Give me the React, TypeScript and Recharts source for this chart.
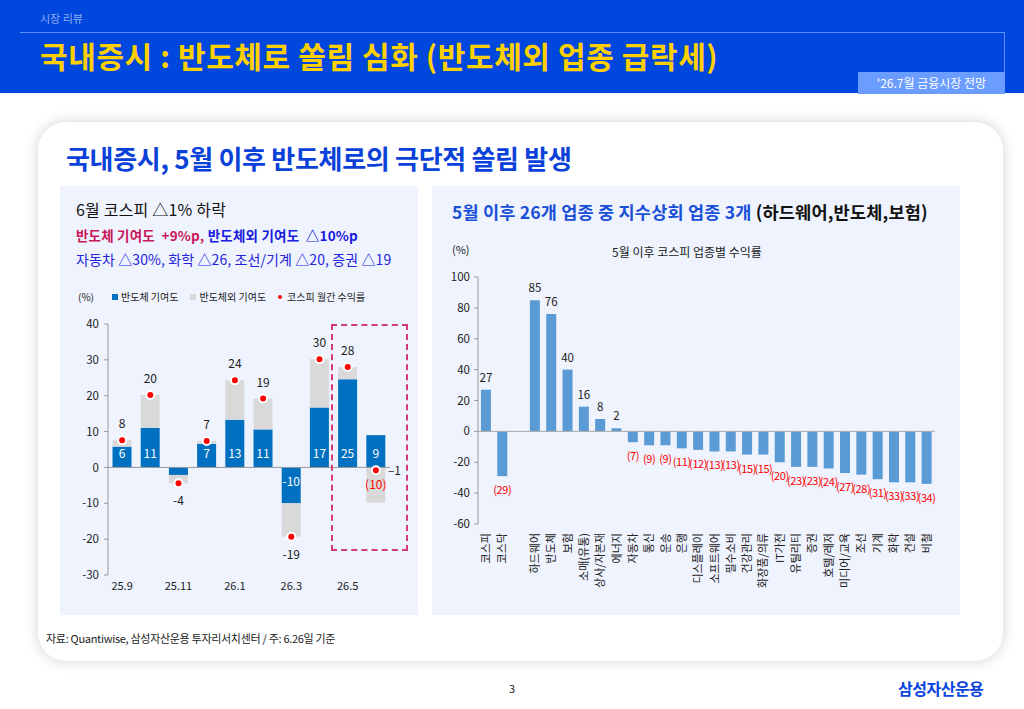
import React from 'react';
import { ComposedChart, BarChart, Bar, Line, XAxis, YAxis, ReferenceLine, LabelList } from 'recharts';

// left chart: monthly KOSPI contribution
const months = ['25.9', '25.10', '25.11', '25.12', '26.1', '26.2', '26.3', '26.4', '26.5', '26.6'];
const semiContrib = [5.8, 11.0, -2.1, 6.6, 13.3, 10.6, -10.0, 16.7, 24.6, 9.0];
const nonSemiContrib = [1.8, 9.2, -2.3, 0.8, 11.0, 8.6, -9.3, 13.5, 3.4, -9.8];
const kospiReturn = [7.6, 20.2, -4.4, 7.4, 24.3, 19.2, -19.3, 30.2, 28.0, -0.8];
const leftTicks = [-30, -20, -10, 0, 10, 20, 30, 40];

// right chart: sector returns since May
const sectors = ['코스피', '코스닥', '', '하드웨어', '반도체', '보험', '소매(유통)', '상사/자본재', '에너지', '자동차', '통신', '운송', '은행', '디스플레이', '소프트웨어', '필수소비', '건강관리', '화장품/의류', 'IT가전', '유틸리티', '증권', '호텔/레저', '미디어/교육', '조선', '기계', '화학', '건설', '비철'];
const sectorReturn = [27, -29, null, 85, 76, 40, 16, 8, 2, -7, -9, -9, -11, -12, -13, -13, -15, -15, -20, -23, -23, -24, -27, -28, -31, -33, -33, -34];
const rightTicks = [-60, -40, -20, 0, 20, 40, 60, 80, 100];

const FONT = '"Noto Sans CJK KR", "Noto Sans", sans-serif';

const leftData = months.map((m, i) => ({
  month: m,
  semi: semiContrib[i],
  nonSemi: nonSemiContrib[i],
  total: kospiReturn[i],
}));

const rightData = sectors.map((s, i) => ({ name: s, value: sectorReturn[i] }));

const RedDot = (props: any) => {
  const { cx, cy } = props;
  if (cx == null || cy == null) return null;
  return <circle cx={cx} cy={cy} r={4} fill="#ff0000" stroke="#ffffff" strokeWidth={2} />;
};

const TotalLabel = (props: any) => {
  const { x, y, value, index } = props;
  if (value == null) return null;
  if (index === months.length - 1) {
    return (
      <text x={x + 12} y={y + 5} fontSize={12} fill="#222" textAnchor="start" fontFamily={FONT}>
        {'–' + Math.abs(Math.round(value))}
      </text>
    );
  }
  return (
    <text x={x} y={value >= 0 ? y - 12 : y + 22} fontSize={12} fill="#222" textAnchor="middle" fontFamily={FONT}>
      {Math.round(value)}
    </text>
  );
};

const SemiLabel = (props: any) => {
  const { x, y, width, height, value } = props;
  if (value == null || Math.abs(value) < 3) return null;
  const top = Math.min(y, y + height);
  const bottom = Math.max(y, y + height);
  const ty = value >= 0 ? bottom - 9 : top + 19;
  return (
    <text x={x + width / 2} y={ty} fontSize={12} fill="#ffffff" textAnchor="middle" fontFamily={FONT}>
      {Math.round(value)}
    </text>
  );
};

const NonSemiLabel = (props: any) => {
  const { x, width, y, height, value, index } = props;
  if (index !== months.length - 1 || value == null) return null;
  const top = Math.min(y, y + height);
  return (
    <text x={x + width / 2} y={top + 22} fontSize={12} fill="#ff0000" textAnchor="middle" fontFamily={FONT}>
      {'(' + Math.abs(Math.round(value)) + ')'}
    </text>
  );
};

const SectorLabel = (props: any) => {
  const { x, y, width, height, value } = props;
  if (value == null) return null;
  const top = Math.min(y, y + height);
  const bottom = Math.max(y, y + height);
  if (value >= 0) {
    return (
      <text x={x + width / 2} y={top - 8} fontSize={11.5} fill="#222" textAnchor="middle" fontFamily={FONT}>
        {value}
      </text>
    );
  }
  return (
    <text x={x + width / 2} y={bottom + 18} fontSize={11} fill="#ff0000" textAnchor="middle" fontFamily={FONT} letterSpacing={-0.4}>
      {'(' + Math.abs(value) + ')'}
    </text>
  );
};

const SectorTick = (props: any) => {
  const { x, y, payload } = props;
  if (!payload || !payload.value) return null;
  return (
    <text
      x={x}
      y={y + 3}
      transform={`rotate(-90, ${x}, ${y + 3})`}
      textAnchor="end"
      dy="0.35em"
      fontSize={11}
      fill="#222"
      fontFamily={FONT}
    >
      {payload.value}
    </text>
  );
};

const abs = (left: number, top: number, extra: React.CSSProperties = {}): React.CSSProperties => ({
  position: 'absolute',
  left,
  top,
  ...extra,
});

export default function App() {
  return (
    <div style={{ position: 'absolute', left: 0, top: 0, width: 1024, height: 709, background: '#ffffff', overflow: 'hidden', fontFamily: FONT }}>
      {/* header band */}
      <div style={abs(0, 0, { width: 1024, height: 93, background: '#0047de' })} />
      <div style={abs(40, 10, { fontSize: 11, color: '#8fb0ef' })}>시장 리뷰</div>
      <div style={abs(20, 32, { width: 984, height: 40, borderTop: '1px solid #5d8dff', borderRight: '1px solid #5d8dff' })} />
      <div style={abs(40, 33, { fontSize: 30, fontWeight: 700, color: '#ffd000', letterSpacing: 0.6, whiteSpace: 'nowrap' })}>
        국내증시 : 반도체로 쏠림 심화 (반도체외 업종 급락세)
      </div>
      <div style={abs(858, 72, { width: 147, height: 22, background: '#6b9cff', color: '#fff', fontSize: 12, lineHeight: '22px', textAlign: 'center' })}>
        '26.7월 금융시장 전망
      </div>

      {/* card */}
      <div style={abs(38, 122, { width: 965, height: 539, background: '#fff', borderRadius: 28, boxShadow: '0 0 14px rgba(0,0,0,0.18)' })} />
      <div style={abs(66, 139, { fontSize: 26, fontWeight: 700, color: '#0a41d8', letterSpacing: -0.3, whiteSpace: 'nowrap' })}>
        국내증시, 5월 이후 반도체로의 극단적 쏠림 발생
      </div>

      {/* left panel */}
      <div style={abs(60, 186, { width: 358, height: 429, background: '#eef3fd' })} />
      <div style={abs(76, 197, { fontSize: 16, color: '#111', whiteSpace: 'nowrap', letterSpacing: 0.2 })}>6월 코스피 △1% 하락</div>
      <div style={abs(76, 225, { fontSize: 13.5, fontWeight: 700, whiteSpace: 'nowrap', letterSpacing: 0.2 })}>
        <span style={{ color: '#c8185a' }}>반도체 기여도 &nbsp;+9%p, </span>
        <span style={{ color: '#1a1ae0' }}>반도체외 기여도 &nbsp;△10%p</span>
      </div>
      <div style={abs(76, 249, { fontSize: 14, color: '#2424dc', whiteSpace: 'nowrap', letterSpacing: 0.1 })}>
        자동차 △30%, 화학 △26, 조선/기계 △20, 증권 △19
      </div>
      <div style={abs(78, 289, { fontSize: 10, color: '#222' })}>(%)</div>
      <div style={abs(112, 289, { fontSize: 10, color: '#222', display: 'flex', alignItems: 'center', whiteSpace: 'nowrap' })}>
        <span style={{ display: 'inline-block', width: 6, height: 6, background: '#0070c0', marginRight: 3 }} />
        <span style={{ marginRight: 12 }}>반도체 기여도</span>
        <span style={{ display: 'inline-block', width: 6, height: 6, background: '#d9d9d9', marginRight: 3 }} />
        <span style={{ marginRight: 12 }}>반도체외 기여도</span>
        <span style={{ display: 'inline-block', width: 4, height: 4, borderRadius: 2, background: '#ff0000', marginRight: 5 }} />
        <span>코스피 월간 수익률</span>
      </div>
      <div style={abs(60, 310)}>
        <ComposedChart
          width={350}
          height={290}
          data={leftData}
          stackOffset="sign"
          barCategoryGap="16%"
          margin={{ top: 14, right: 20, bottom: 5, left: 10 }}
        >
          <XAxis
            dataKey="month"
            interval={1}
            axisLine={false}
            tickLine={false}
            tickSize={4}
            tickMargin={3}
            height={20}
            tick={{ fontSize: 11, fill: '#222', fontFamily: FONT }}
          />
          <YAxis
            domain={[-30, 40]}
            ticks={leftTicks}
            width={38}
            tickSize={4}
            tickMargin={5}
            axisLine={{ stroke: '#999' }}
            tickLine={{ stroke: '#999' }}
            tick={{ fontSize: 11.5, fill: '#222', fontFamily: FONT }}
          />
          <Bar dataKey="semi" stackId="a" fill="#0070c0" isAnimationActive={false}>
            <LabelList dataKey="semi" content={<SemiLabel />} />
          </Bar>
          <Bar dataKey="nonSemi" stackId="a" fill="#d9d9d9" isAnimationActive={false}>
            <LabelList dataKey="nonSemi" content={<NonSemiLabel />} />
          </Bar>
          <ReferenceLine y={0} stroke="#999" />
          <Line dataKey="total" stroke="none" dot={<RedDot />} activeDot={false} isAnimationActive={false}>
            <LabelList dataKey="total" content={<TotalLabel />} />
          </Line>
        </ComposedChart>
      </div>
      <div style={abs(331, 324, { width: 73, height: 223, border: '2px dashed #d23a78' })} />

      {/* right panel */}
      <div style={abs(432, 186, { width: 528, height: 429, background: '#eef3fd' })} />
      <div style={abs(452, 199, { fontSize: 17.5, fontWeight: 700, whiteSpace: 'nowrap', letterSpacing: 0.2 })}>
        <span style={{ color: '#1a4fd8' }}>5월 이후 26개 업종 중 지수상회 업종 3개 </span>
        <span style={{ color: '#111' }}>(하드웨어,반도체,보험)</span>
      </div>
      <div style={abs(452, 241, { fontSize: 11, color: '#222' })}>(%)</div>
      <div style={abs(612, 243, { fontSize: 12, color: '#222', whiteSpace: 'nowrap' })}>5월 이후 코스피 업종별 수익률</div>
      <div style={abs(432, 265)}>
        <BarChart
          width={520}
          height={330}
          data={rightData}
          barCategoryGap="18%"
          margin={{ top: 12, right: 17, bottom: 0, left: 10 }}
        >
          <XAxis
            dataKey="name"
            interval={0}
            axisLine={false}
            tickLine={false}
            tickSize={4}
            tickMargin={2}
            height={71}
            tick={<SectorTick />}
          />
          <YAxis
            domain={[-60, 100]}
            ticks={rightTicks}
            width={36}
            tickSize={4}
            tickMargin={4}
            axisLine={{ stroke: '#999' }}
            tickLine={{ stroke: '#999' }}
            tick={{ fontSize: 11.5, fill: '#222', fontFamily: FONT }}
          />
          <ReferenceLine y={0} stroke="#aaa" />
          <Bar dataKey="value" fill="#5b9bd5" isAnimationActive={false}>
            <LabelList dataKey="value" content={<SectorLabel />} />
          </Bar>
        </BarChart>
      </div>

      {/* footer */}
      <div style={abs(46, 630, { fontSize: 11, color: '#222', whiteSpace: 'nowrap', letterSpacing: -0.3 })}>
        자료: Quantiwise, 삼성자산운용 투자리서치센터 / 주: 6.26일 기준
      </div>
      <div style={abs(509, 680, { fontSize: 11, color: '#222' })}>3</div>
      <div style={abs(898, 676, { fontSize: 16, fontWeight: 700, color: '#0a45e0', letterSpacing: -0.5 })}>삼성자산운용</div>
    </div>
  );
}
